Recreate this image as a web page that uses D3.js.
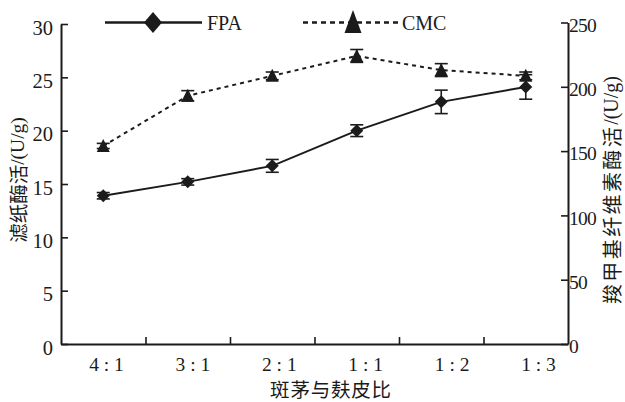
<!DOCTYPE html>
<html>
<head>
<meta charset="utf-8">
<script src="https://cdn.jsdelivr.net/npm/d3@7"></script>
<style>
  html, body { margin: 0; padding: 0; background: #fff; }
  svg { display: block; }
</style>
</head>
<body>
<svg id="chart" width="625" height="402"></svg>
<script>
// Mixing ratio of Erianthus arundinaceus to wheat bran
const categories = ["4 : 1", "3 : 1", "2 : 1", "1 : 1", "1 : 2", "1 : 3"];
// Filter paper activity (U/g), left axis
const fpa = [13.9, 15.2, 16.7, 20.0, 22.7, 24.1];
const fpaErr = [0.3, 0.3, 0.6, 0.55, 1.1, 1.15];
// CMC-ase activity (U/g), right axis
const cmc = [154, 193, 208.5, 224, 213, 208.5];
const cmcErr = [2, 4, 3, 5, 5, 3];
const leftTicks = [0, 5, 10, 15, 20, 25, 30];
const rightTicks = [0, 50, 100, 150, 200, 250];
const seriesNames = ["FPA", "CMC"];

const ink = "#1b1b1b";
const serif = "'Liberation Serif', 'Times New Roman', serif";
const cjk = "'Noto Sans CJK SC', sans-serif";

const svg = d3.select("#chart");

const x = d3.scaleBand().domain(categories).range([61, 568]).paddingInner(0).paddingOuter(0);
const xBound = d3.scaleLinear().domain([0, categories.length]).range([61, 568]);
const xLabel = d3.scalePoint().domain(categories).range([106, 538]);
const yL = d3.scaleLinear().domain([0, 30]).range([344, 24]);
const yR = d3.scaleLinear().domain([0, 250]).range([344, 22.5]);
const cx = c => x(c) + x.bandwidth() / 2;

function styleAxis(g) {
  g.selectAll(".domain").attr("stroke", ink).attr("stroke-width", 2);
  g.selectAll(".tick line").attr("stroke", ink).attr("stroke-width", 1.6);
  g.selectAll("text").attr("fill", ink).attr("font-family", serif);
}

// bottom axis: tick marks on category boundaries
svg.append("g")
  .attr("transform", "translate(0,344)")
  .call(d3.axisBottom(xBound).tickValues(d3.range(1, categories.length)).tickFormat("")
    .tickSizeInner(-7).tickSizeOuter(0))
  .call(styleAxis);

// bottom category labels
svg.append("g")
  .attr("transform", "translate(0,344)")
  .call(d3.axisBottom(xLabel).tickSize(0).tickPadding(13))
  .call(g => g.select(".domain").remove())
  .call(styleAxis)
  .selectAll("text").attr("font-size", 19.5);

// left axis
svg.append("g")
  .attr("transform", "translate(61,0)")
  .call(d3.axisLeft(yL).tickValues(leftTicks).tickSizeInner(-7).tickSizeOuter(0).tickPadding(8))
  .call(styleAxis)
  .selectAll("text").attr("font-size", 20.5).attr("dy", "0.5em");

// right axis
svg.append("g")
  .attr("transform", "translate(568,0)")
  .call(d3.axisRight(yR).tickValues(rightTicks).tickSizeInner(-7).tickSizeOuter(0).tickPadding(1))
  .call(styleAxis)
  .selectAll("text").attr("font-size", 19.5).attr("letter-spacing", -0.8).attr("dy", "0.45em");

// axis titles
function title(text, tx, ty, rot, size, spacing) {
  const t = svg.append("text")
    .attr("transform", `translate(${tx},${ty}) rotate(${rot})`)
    .attr("text-anchor", "middle")
    .attr("dominant-baseline", "central")
    .attr("fill", ink)
    .attr("font-size", size);
  const m = text.match(/^([^\/]*)(.*)$/);
  t.append("tspan").attr("font-family", cjk).attr("letter-spacing", spacing).text(m[1]);
  if (m[2]) t.append("tspan").attr("font-family", serif).text(m[2]);
}
title("滤纸酶活/(U/g)", 17, 180, -90, 19.5, 0);
title("羧甲基纤维素酶活/(U/g)", 611, 190, -90, 20, 2.4);
title("斑茅与麸皮比", 331, 387.5, 0, 19.5, 0.8);

// markers
const diamond = (w, h) => `M0,${-h}L${w},0L0,${h}L${-w},0Z`;
const triangle = (w, top, bottom) => `M0,${-top}L${w},${bottom}L${-w},${bottom}Z`;

// lines
const lineL = d3.line().x((d, i) => cx(categories[i])).y(d => yL(d));
const lineR = d3.line().x((d, i) => cx(categories[i])).y(d => yR(d));

svg.append("path").datum(cmc).attr("d", lineR)
  .attr("fill", "none").attr("stroke", ink).attr("stroke-width", 2).attr("stroke-dasharray", "4,4");
svg.append("path").datum(fpa).attr("d", lineL)
  .attr("fill", "none").attr("stroke", ink).attr("stroke-width", 2);

// error bars
function errorBars(vals, errs, y) {
  const g = svg.append("g").attr("stroke", ink).attr("stroke-width", 1.6);
  vals.forEach((v, i) => {
    const px = cx(categories[i]);
    const y0 = y(v - errs[i]), y1 = y(v + errs[i]);
    g.append("line").attr("x1", px).attr("x2", px).attr("y1", y0).attr("y2", y1);
    [y0, y1].forEach(yy => g.append("line").attr("x1", px - 6.5).attr("x2", px + 6.5).attr("y1", yy).attr("y2", yy));
  });
}
errorBars(cmc, cmcErr, yR);
errorBars(fpa, fpaErr, yL);

svg.append("g").selectAll("path").data(cmc).join("path")
  .attr("transform", (d, i) => `translate(${cx(categories[i])},${yR(d)})`)
  .attr("d", triangle(6.5, 7, 6)).attr("fill", ink);
svg.append("g").selectAll("path").data(fpa).join("path")
  .attr("transform", (d, i) => `translate(${cx(categories[i])},${yL(d)})`)
  .attr("d", diamond(6.5, 6.5)).attr("fill", ink);

// legend
const lg = svg.append("g");
lg.append("line").attr("x1", 105).attr("x2", 202).attr("y1", 22.5).attr("y2", 22.5)
  .attr("stroke", ink).attr("stroke-width", 2.5);
lg.append("path").attr("transform", "translate(153,22.5)").attr("d", diamond(9, 10.5)).attr("fill", ink);
lg.append("text").attr("x", 207).attr("y", 29.5).attr("font-family", serif).attr("font-size", 20)
  .attr("fill", ink).text(seriesNames[0]);
lg.append("line").attr("x1", 303).attr("x2", 400).attr("y1", 22.5).attr("y2", 22.5)
  .attr("stroke", ink).attr("stroke-width", 2.5).attr("stroke-dasharray", "5,4");
lg.append("path").attr("transform", "translate(353,22)").attr("d", triangle(8.5, 12, 11)).attr("fill", ink);
lg.append("text").attr("x", 402).attr("y", 29.5).attr("font-family", serif).attr("font-size", 20)
  .attr("fill", ink).text(seriesNames[1]);
</script>
</body>
</html>
